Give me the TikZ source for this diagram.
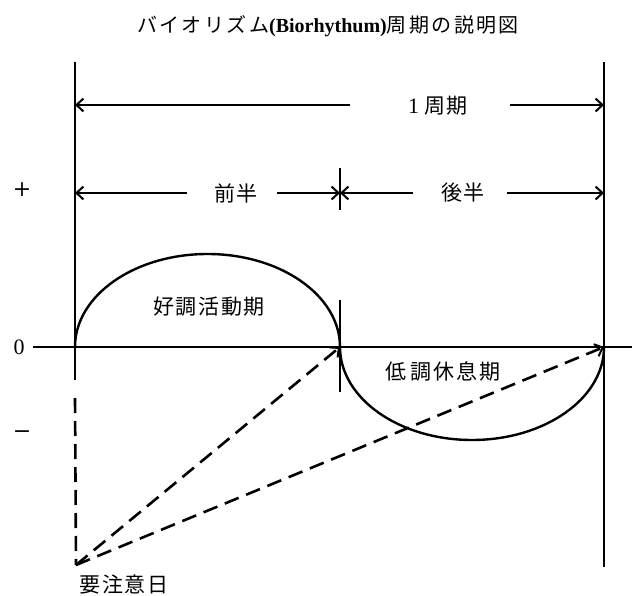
\documentclass[tikz,border=0pt]{standalone}
\usepackage{fontspec}
\setmainfont{Liberation Serif}
\newfontfamily\cjk{Noto Sans CJK JP}[LetterSpace=8]
\newfontfamily\cjkt{Noto Sans CJK JP}[LetterSpace=12]
\newfontfamily\signfont{DejaVu Serif}
\usetikzlibrary{arrows.meta}
\begin{document}
\begin{tikzpicture}[x=1pt,y=-1pt,
  frame/.style={line width=2.6pt},
  axisline/.style={line width=1.8pt},
  curve/.style={line width=2.4pt},
  barb/.style={-{Straight Barb[length=7pt,width=13pt,line width=2pt]}},
  dim/.style={line width=2.4pt, barb},
  dashline/.style={line width=2.6pt, dash pattern=on 15pt off 8pt},
  lbl/.style={font=\cjk\fontsize{21}{21}\selectfont, inner sep=0pt},
  sign/.style={font=\signfont\fontsize{22}{22}\selectfont, inner sep=0pt}]
\useasboundingbox (0,0) rectangle (632,596);

% key points
\coordinate (LT) at (75,62);
\coordinate (LB) at (75,380);
\coordinate (LD) at (75,398);
\coordinate (RT) at (604,62);
\coordinate (RB) at (604,567);
\coordinate (AL) at (33,347);
\coordinate (AR) at (632,347);
\coordinate (O) at (75,347);
\coordinate (M) at (340,347);
\coordinate (E) at (604,347);
\coordinate (W) at (76,565);
\coordinate (MT1) at (340,168);
\coordinate (MB1) at (340,210);
\coordinate (MT2) at (340,300);
\coordinate (MB2) at (340,392);

% title
\node[inner sep=0pt] (title) at (328,26)
  {\cjkt\fontsize{20}{20}\selectfont バイオリズム{\rmfamily\bfseries\fontsize{20}{20}\selectfont(Biorhythum)}周期の説明図};

% frame lines
\draw[frame] (LT) -- (LB);
\draw[frame] (RT) -- (RB);
\draw[dashline] (LD) -- (W);
\draw[frame] (MT1) -- (MB1);
\draw[frame] (MT2) -- (MB2);

% axis
\draw[axisline] (AL) -- (AR);
\node[sign] (plus) at (22,190) {+};
\node[sign, font=\rmfamily\fontsize{22}{22}\selectfont] (zero) at (19,347) {0};
\node[sign] (minus) at (22,435) {−};

% 1 cycle
\node[lbl] (cyc) at (438,106) {\rmfamily\fontsize{22}{22}\selectfont 1\hspace{5pt}\cjk\fontsize{21}{21}\selectfont 周期};
\coordinate (cycL) at (350,105);
\coordinate (cycR) at (510,105);
\coordinate (cycLe) at (75,105);
\coordinate (cycRe) at (604,105);
\draw[dim] (cycL) -- (cycLe);
\draw[dim] (cycR) -- (cycRe);

% halves
\node[lbl] (first) at (236,193) {前半};
\node[lbl] (second) at (463,193) {後半};
\coordinate (fL) at (187,193);
\coordinate (fR) at (277,193);
\coordinate (sL) at (413,193);
\coordinate (sR) at (507,193);
\coordinate (hLe) at (75,193);
\coordinate (hM) at (340,193);
\coordinate (hRe) at (604,193);
\draw[dim] (fL) -- (hLe);
\draw[dim] (fR) -- (hM);
\draw[dim] (sL) -- (hM);
\draw[dim] (sR) -- (hRe);

% curves
\draw[curve] (O) arc[start angle=180, end angle=360, x radius=132.5, y radius=93];
\draw[curve] (M) arc[start angle=180, end angle=0, x radius=132, y radius=93];
\node[lbl] (high) at (209,307) {好調活動期};
\node[lbl] (low) at (443,371) {低\hspace{4pt}調休息期};

% critical day arrows
\draw[dashline, barb] (W) -- (M);
\draw[dashline, barb] (W) -- (E);
\node[lbl] (crit) at (124,585) {要注意日};
\end{tikzpicture}
\end{document}
